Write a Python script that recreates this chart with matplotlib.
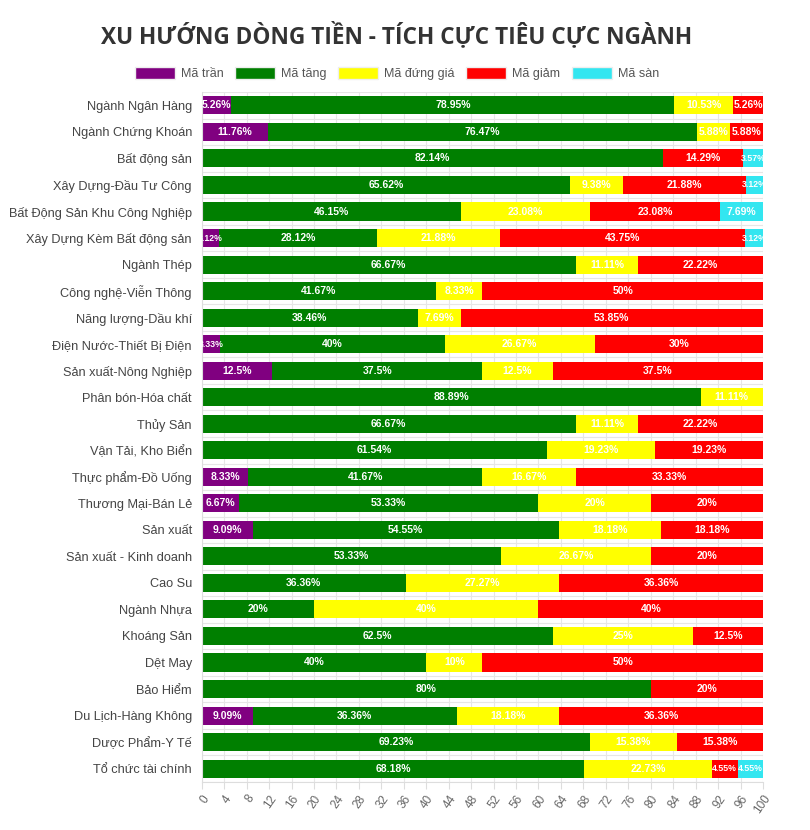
import numpy as np
import matplotlib.pyplot as plt
from matplotlib.patches import Patch

sectors = ["Ngành Ngân Hàng", "Ngành Chứng Khoán", "Bất động sản", "Xây Dựng-Đầu Tư Công",
           "Bất Động Sản Khu Công Nghiệp", "Xây Dựng Kèm Bất động sản", "Ngành Thép",
           "Công nghệ-Viễn Thông", "Năng lượng-Dầu khí", "Điện Nước-Thiết Bị Điện",
           "Sản xuất-Nông Nghiệp", "Phân bón-Hóa chất", "Thủy Sản", "Vận Tải, Kho Biển",
           "Thực phẩm-Đồ Uống", "Thương Mại-Bán Lẻ", "Sản xuất", "Sản xuất - Kinh doanh",
           "Cao Su", "Ngành Nhựa", "Khoáng Sản", "Dệt May", "Bảo Hiểm",
           "Du Lịch-Hàng Không", "Dược Phẩm-Y Tế", "Tổ chức tài chính"]

ma_tran = [5.26, 11.76, 0, 0, 0, 3.12, 0, 0, 0, 3.33, 12.5, 0, 0, 0, 8.33, 6.67, 9.09,
           0, 0, 0, 0, 0, 0, 9.09, 0, 0]
ma_tang = [78.95, 76.47, 82.14, 65.62, 46.15, 28.12, 66.67, 41.67, 38.46, 40, 37.5, 88.89,
           66.67, 61.54, 41.67, 53.33, 54.55, 53.33, 36.36, 20, 62.5, 40, 80, 36.36, 69.23, 68.18]
ma_dung = [10.53, 5.88, 0, 9.38, 23.08, 21.88, 11.11, 8.33, 7.69, 26.67, 12.5, 11.11,
           11.11, 19.23, 16.67, 20, 18.18, 26.67, 27.27, 40, 25, 10, 0, 18.18, 15.38, 22.73]
ma_giam = [5.26, 5.88, 14.29, 21.88, 23.08, 43.75, 22.22, 50, 53.85, 30, 37.5, 0,
           22.22, 19.23, 33.33, 20, 18.18, 20, 36.36, 40, 12.5, 50, 20, 36.36, 15.38, 4.55]
ma_san = [0, 0, 3.57, 3.12, 7.69, 3.12, 0, 0, 0, 0, 0, 0, 0, 0, 0, 0, 0, 0, 0, 0, 0, 0,
          0, 0, 0, 4.55]

series = [("Mã trần", ma_tran, "#800080"),
          ("Mã tăng", ma_tang, "#007f00"),
          ("Mã đứng giá", ma_dung, "#ffff00"),
          ("Mã giảm", ma_giam, "#ff0000"),
          ("Mã sàn", ma_san, "#33e6f0")]

plt.rcParams['font.family'] = ['Liberation Sans', 'DejaVu Sans']

fig = plt.figure(figsize=(8.1, 8.3), dpi=100)
ax = fig.add_axes([0.249, 0.058, 0.693, 0.831])

y = np.arange(len(sectors))
left = np.zeros(len(sectors))
for name, vals, col in series:
    vals = np.array(vals, dtype=float)
    bars = ax.barh(y, vals, left=left, height=0.68, color=col, label=name, zorder=2)
    for i, b in enumerate(bars):
        v = vals[i]
        if v <= 0:
            continue
        txt = ("%.2f" % v).rstrip("0").rstrip(".") + "%"
        fs = 7.5 if v >= 5 else 6.3
        t = ax.text(left[i] + v / 2, y[i], txt, ha="center", va="center",
                    color="white", fontsize=fs, fontweight="bold", zorder=3)
        t.set_clip_path(b)
    left += vals

ax.set_xlim(0, 100)
ax.set_ylim(len(sectors) - 0.5, -0.5)
ax.set_xticks(np.arange(0, 101, 4))
ax.set_xticklabels([str(v) for v in range(0, 101, 4)], rotation=55, ha="right",
                   rotation_mode="anchor", fontsize=8.5, color="#666666")
ax.set_yticks(y)
ax.set_yticklabels(sectors, fontsize=9.2, color="#444444")
ax.set_yticks(np.arange(-0.5, len(sectors), 1), minor=True)
ax.tick_params(axis="y", which="both", length=0, pad=7)
ax.tick_params(axis="x", length=5, color="#dddddd", pad=3)
ax.grid(axis="x", color="#e6e6e6", linewidth=0.8, zorder=0)
ax.grid(axis="y", which="minor", color="#e6e6e6", linewidth=0.8, zorder=0)
for s in ["top", "right"]:
    ax.spines[s].set_visible(False)
ax.spines["left"].set_color("#dddddd")
ax.spines["bottom"].set_color("#dddddd")

handles = [Patch(facecolor=c, edgecolor="#eeeeee", label=n) for n, _, c in series]
fig.legend(handles=handles, loc="center", bbox_to_anchor=(0.49, 0.911), ncol=5,
           frameon=False, fontsize=9, handlelength=3.2, handleheight=1.1,
           columnspacing=0.9, handletextpad=0.5, labelcolor="#555555")

fig.text(0.49, 0.957, "XU HƯỚNG DÒNG TIỀN - TÍCH CỰC TIÊU CỰC NGÀNH", ha="center",
         va="center", fontsize=16.3, fontweight="bold", color="#333333",
         family=["Open Sans", "DejaVu Sans"])

fig.savefig("out.png", dpi=100, facecolor="white")
